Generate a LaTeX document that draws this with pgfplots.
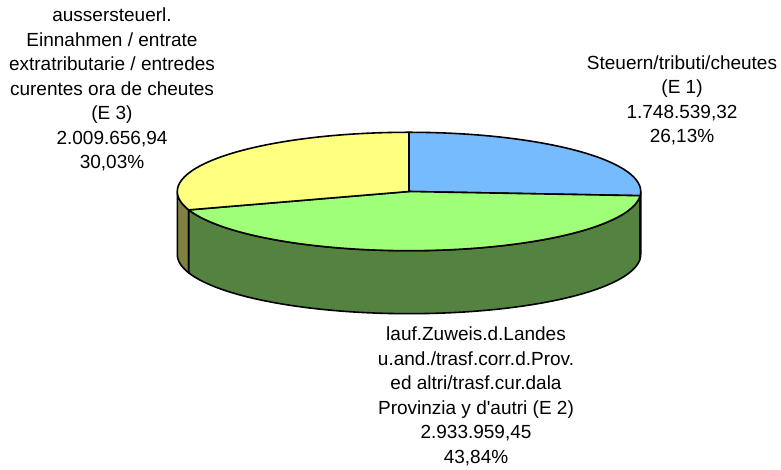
\documentclass[border=0pt]{standalone}
\usepackage{pgfplots}
\pgfplotsset{compat=1.18}
\usepackage{pgfplotstable}
\usepgfplotslibrary{fillbetween}
\usepackage{fontspec}
\setmainfont{Liberation Sans}[Ligatures=TeXOff]
\definecolor{cblue}{RGB}{119,187,255}
\definecolor{cgreen}{RGB}{160,255,120}
\definecolor{cyellow}{RGB}{255,255,128}
\definecolor{sgreen}{RGB}{84,130,64}
\definecolor{syellow}{RGB}{128,128,64}
\definecolor{sblue}{RGB}{60,94,128}
\pgfplotstableread{
name value pct
E1 1748539.32 26.13
E2 2933959.45 43.84
E3 2009656.94 30.03
}\piedata
\pgfplotstablegetelem{0}{pct}\of\piedata \let\pA\pgfplotsretval
\pgfplotstablegetelem{1}{pct}\of\piedata \let\pB\pgfplotsretval
\pgfplotstablegetelem{2}{pct}\of\piedata \let\pC\pgfplotsretval
\pgfmathsetmacro\tB{90-3.6*\pA}
\pgfmathsetmacro\tC{\tB-3.6*\pB}
\pgfmathsetmacro\tD{\tC-3.6*\pC}
\def\cx{409}
\def\cy{191.5}
\def\rx{231.7}
\def\ry{59.2}
\def\dep{63}
\begin{document}
\begin{tikzpicture}
\begin{axis}[width=781bp,height=470bp,scale only axis,hide axis,
  xmin=0,xmax=781,ymin=0,ymax=470,y dir=reverse,clip=false,samples=150]
\path (axis cs:0,0) rectangle (axis cs:781,470);
% side walls
\addplot[name path=yt, draw=none, domain=-180:\tC] ({\cx+\rx*cos(x)},{\cy-\ry*sin(x)});
\addplot[name path=yb, draw=none, domain=-180:\tC] ({\cx+\rx*cos(x)},{\cy+\dep-\ry*sin(x)});
\addplot[fill=syellow, draw=black, line width=1.6bp, line join=round] fill between[of=yt and yb];
\addplot[name path=gt, draw=none, domain=\tC:\tB] ({\cx+\rx*cos(x)},{\cy-\ry*sin(x)});
\addplot[name path=gb, draw=none, domain=\tC:\tB] ({\cx+\rx*cos(x)},{\cy+\dep-\ry*sin(x)});
\addplot[fill=sgreen, draw=black, line width=1.6bp, line join=round] fill between[of=gt and gb];
\addplot[name path=bt, draw=none, domain=\tB:0] ({\cx+\rx*cos(x)},{\cy-\ry*sin(x)});
\addplot[name path=bb, draw=none, domain=\tB:0] ({\cx+\rx*cos(x)},{\cy+\dep-\ry*sin(x)});
\addplot[fill=sblue, draw=black, line width=1.6bp, line join=round] fill between[of=bt and bb];
% top sectors
\addplot[fill=cblue, draw=black, line width=1.6bp, line join=round, domain=\tB:90] ({\cx+\rx*cos(x)},{\cy-\ry*sin(x)}) -- (axis cs:\cx,\cy) -- cycle;
\addplot[fill=cgreen, draw=black, line width=1.6bp, line join=round, domain=\tC:\tB] ({\cx+\rx*cos(x)},{\cy-\ry*sin(x)}) -- (axis cs:\cx,\cy) -- cycle;
\addplot[fill=cyellow, draw=black, line width=1.6bp, line join=round, domain=\tD:\tC] ({\cx+\rx*cos(x)},{\cy-\ry*sin(x)}) -- (axis cs:\cx,\cy) -- cycle;
% labels
\tikzset{lab/.style={align=center,inner sep=0pt,font=\fontsize{19bp}{24.5bp}\selectfont}}
\node[lab] at (axis cs:112,89.8) {aussersteuerl.\\Einnahmen / entrate\\extratributarie / entredes\\curentes ora de cheutes\\(E 3)\\2.009.656,94\\30,03\%};
\node[lab] at (axis cs:682,100.1) {Steuern/tributi/cheutes\\(E 1)\\1.748.539,32\\26,13\%};
\node[lab] at (axis cs:476,396.5) {lauf.Zuweis.d.Landes\\u.and./trasf.corr.d.Prov.\\ed altri/trasf.cur.dala\\Provinzia y d'autri (E 2)\\2.933.959,45\\43,84\%};
\end{axis}
\end{tikzpicture}
\end{document}
